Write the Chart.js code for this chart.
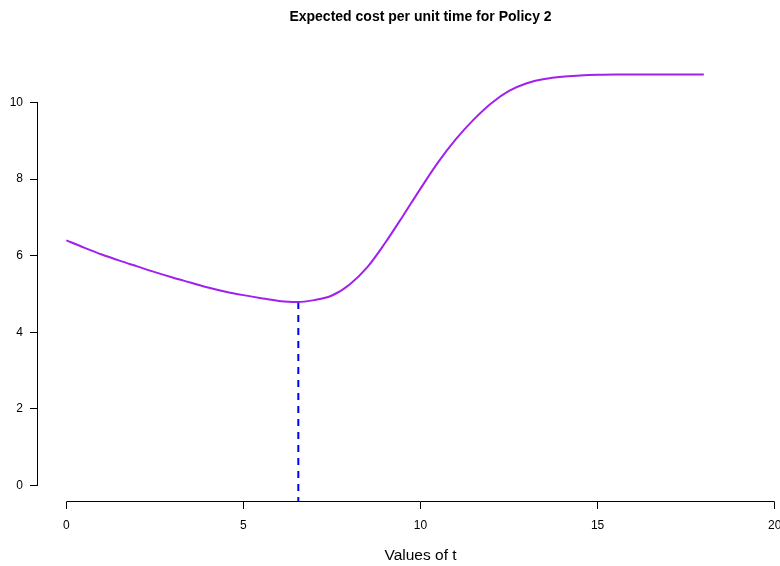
<!DOCTYPE html>
<html>
<head>
<meta charset="utf-8">
<script src="https://cdn.jsdelivr.net/npm/chart.js@4.4.0/dist/chart.umd.min.js"></script>
<style>
  html, body { margin: 0; padding: 0; background: #fff; overflow: hidden; }
</style>
</head>
<body>
<canvas id="cost-chart" width="810" height="566"></canvas>
<script>
// Expected cost per unit time for Policy 2
var tValues = [0, 0.5, 1, 1.5, 2, 2.5, 3, 3.5, 4, 4.5, 5, 5.5, 6, 6.5, 7, 7.5, 8, 8.5, 9, 9.5,
               10, 10.5, 11, 11.5, 12, 12.5, 13, 13.5, 14, 14.5, 15, 15.5, 16, 16.5, 17, 17.5, 18];
var costValues = [6.40, 6.21, 6.03, 5.87, 5.72, 5.57, 5.43, 5.30, 5.17, 5.06, 4.97, 4.89, 4.82, 4.79, 4.84, 4.96, 5.25, 5.70, 6.33, 7.03,
                  7.75, 8.44, 9.04, 9.55, 9.98, 10.30, 10.50, 10.61, 10.67, 10.70, 10.72, 10.73, 10.73, 10.73, 10.73, 10.73, 10.73];
var xTicks = [0, 5, 10, 15, 20];
var yTicks = [0, 2, 4, 6, 8, 10];
var tOptimal = 6.55;
var costOptimal = 4.79;

var FONT = "'Liberation Sans', Arial, sans-serif";

// R style: 4% extra on both ends
var costMax = Math.max.apply(null, costValues);
var yMin = -0.04 * costMax, yMax = 1.04 * costMax;
var xMin = xTicks[0] - 0.04 * (xTicks[xTicks.length - 1] - xTicks[0]);
var xMax = xTicks[xTicks.length - 1] + 0.04 * (xTicks[xTicks.length - 1] - xTicks[0]);

var curve = tValues.map(function (t, i) { return { x: t, y: costValues[i] }; });
var dropLine = [{ x: tOptimal, y: costOptimal }, { x: tOptimal, y: yMin }];

// axis lines only between first and last tick, plus the title centred on the plot
var rStyle = {
    id: 'rStyle',
    afterDraw: function (chart) {
        var c = chart.ctx, xs = chart.scales.x, ys = chart.scales.y, area = chart.chartArea;
        c.save();
        c.strokeStyle = '#000';
        c.lineWidth = 1;
        c.beginPath();
        var ax = Math.round(area.left) - 0.5;
        c.moveTo(ax, ys.getPixelForValue(yTicks[0]));
        c.lineTo(ax, ys.getPixelForValue(yTicks[yTicks.length - 1]));
        var ay = Math.round(area.bottom) - 0.5;
        c.moveTo(xs.getPixelForValue(xTicks[0]), ay);
        c.lineTo(xs.getPixelForValue(xTicks[xTicks.length - 1]), ay);
        c.stroke();

        c.fillStyle = '#000';
        c.font = 'bold 14px ' + FONT;
        c.textAlign = 'center';
        c.textBaseline = 'middle';
        c.fillText('Expected cost per unit time for Policy 2', (area.left + area.right) / 2, 17);
        c.restore();
    }
};

var ctx = document.getElementById('cost-chart');
var myChart = new Chart(ctx, {
    type: 'line',
    data: {
        datasets: [
            {
                label: 'Expected cost',
                data: curve,
                borderColor: '#A020F0',
                borderWidth: 2,
                pointRadius: 0,
                cubicInterpolationMode: 'monotone',
                fill: false
            },
            {
                label: 'Optimal t',
                data: dropLine,
                borderColor: '#0000FF',
                borderWidth: 2,
                borderDash: [7, 6],
                pointRadius: 0,
                fill: false
            }
        ]
    },
    options: {
        responsive: false,
        animation: false,
        layout: { padding: { top: 58, right: 7, left: 0, bottom: 0 } },
        plugins: {
            legend: { display: false },
            tooltip: { enabled: false },
            title: { display: false }
        },
        scales: {
            x: {
                type: 'linear',
                min: xMin,
                max: xMax,
                afterBuildTicks: function (scale) {
                    scale.ticks = xTicks.map(function (v) { return { value: v }; });
                },
                afterFit: function (scale) { scale.height = 64; },
                border: { display: false },
                grid: { drawOnChartArea: false, drawTicks: true, tickLength: 7, color: '#000' },
                ticks: { color: '#000', padding: 9, maxRotation: 0, font: { family: FONT, size: 12 } },
                title: {
                    display: true,
                    text: 'Values of t',
                    color: '#000',
                    font: { family: FONT, size: 15.5 },
                    padding: { top: 0, bottom: 1 }
                }
            },
            y: {
                type: 'linear',
                min: yMin,
                max: yMax,
                afterBuildTicks: function (scale) {
                    scale.ticks = yTicks.map(function (v) { return { value: v }; });
                },
                afterFit: function (scale) { scale.width = 38; },
                border: { display: false },
                grid: { drawOnChartArea: false, drawTicks: true, tickLength: 8, color: '#000' },
                ticks: { color: '#000', padding: 7, font: { family: FONT, size: 12 } }
            }
        }
    },
    plugins: [rStyle]
});
</script>
</body>
</html>
